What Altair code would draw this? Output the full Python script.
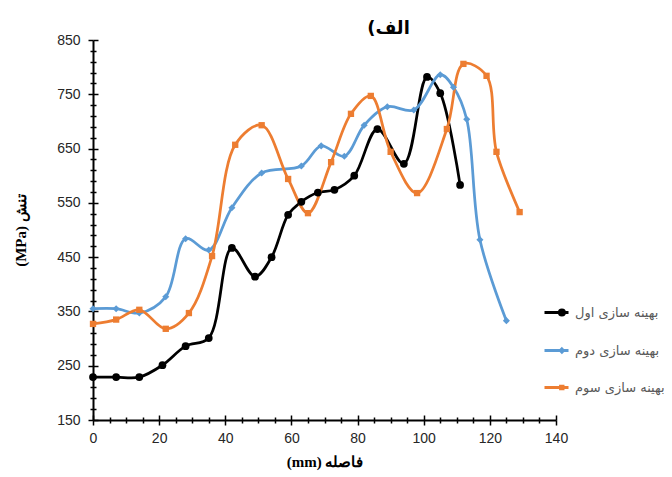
import altair as alt
import pandas as pd

S1, S2, S3 = "بهینه سازی اول", "بهینه سازی دوم", "بهینه سازی سوم"
SERIES = [S1, S2, S3]
COLORS = ["#000000", "#5B9BD5", "#ED7D31"]
MARKERS = ["circle", "diamond", "square"]
MARKER_SIZES = [60, 40, 32]

X1 = [0, 7, 14, 21, 28, 35, 42, 49, 54, 59, 63, 68, 73, 79, 86, 94, 101, 105, 111]
Y1 = [229, 229, 229, 251, 286, 301, 467, 414, 450, 528, 552, 569, 574, 600, 686, 622, 782, 752, 583]
X2 = [0, 7, 14, 22, 28, 35, 42, 51, 63, 69, 76, 82, 89, 97, 105, 109, 113, 117, 125]
Y2 = [355, 355, 347, 377, 484, 463, 541, 605, 618, 655, 636, 693, 727, 721, 786, 763, 704, 482, 333]
X3 = [0, 7, 14, 22, 29, 36, 43, 51, 59, 65, 72, 78, 84, 90, 98, 107, 112, 119, 122, 129]
Y3 = [327, 335, 353, 318, 347, 452, 657, 693, 594, 531, 625, 714, 747, 644, 568, 686, 806, 784, 644, 533]

X_TICKS = list(range(0, 141, 5))
Y_TICKS = list(range(150, 851, 20))

TITLE = "(الف"
X_TITLE = "(mm) فاصله"
Y_TITLE = "(MPa) تنش"

# legend symbols: short line with the series marker near its right end
LEGEND_PATHS = [
    "M-1,0H1M0.66,0A0.21,0.21,0,1,1,0.24,0A0.21,0.21,0,1,1,0.66,0ZM0.53,0A0.08,0.08,0,1,1,0.37,0A0.08,0.08,0,1,1,0.53,0Z",
    "M-1,0H1M0.45,-0.13L0.58,0L0.45,0.13L0.32,0Z",
    "M-1,0H1M0.34,-0.1H0.54V0.1H0.34Z",
]

rows = []
for name, xs, ys in [(S1, X1, Y1), (S2, X2, Y2), (S3, X3, Y3)]:
    for xv, yv in zip(xs, ys):
        rows.append({"series": name, "x": xv, "y": yv})
df = pd.DataFrame(rows)

xscale = alt.Scale(domain=[0, 140], nice=False)
yscale = alt.Scale(domain=[150, 850], nice=False)

x_main = alt.Axis(
    values=X_TICKS, labelExpr="datum.value % 20 == 0 ? datum.label : ''",
    tickSize={"condition": {"test": "datum.value % 20 == 0", "value": 5}, "value": 3},
    tickColor="black", tickWidth=1.5, domainColor="black", domainWidth=2,
    labelFont="Liberation Sans", labelFontSize=14, labelColor="#262626",
    labelPadding=6, labelFlush=False, labelOverlap=False, grid=False,
    title=X_TITLE, titleFont="Liberation Serif", titleFontSize=15,
    titleFontWeight="bold", titleColor="black", titlePadding=9,
)
y_main = alt.Axis(
    values=Y_TICKS, labelExpr="datum.value % 100 == 50 ? datum.label : ''",
    tickSize={"condition": {"test": "datum.value % 100 == 50", "value": 5}, "value": 3},
    tickColor="black", tickWidth=1.5, domainColor="black", domainWidth=2,
    labelFont="Liberation Sans", labelFontSize=14, labelColor="#262626",
    labelPadding=8, labelFlush=False, labelOverlap=False, grid=False,
    title=Y_TITLE, titleFont="Liberation Serif", titleFontSize=15,
    titleFontWeight="bold", titleColor="black", titlePadding=28,
)
x_inner = alt.Axis(
    orient="top", offset=-380, values=X_TICKS, labels=False, domain=False,
    grid=False, title=None, tickColor="black", tickWidth=1.5,
    tickSize={"condition": {"test": "datum.value % 20 == 0", "value": 5}, "value": 3},
)
y_inner = alt.Axis(
    orient="right", offset=-463, values=Y_TICKS, labels=False, domain=False,
    grid=False, title=None, tickColor="black", tickWidth=1.5,
    tickSize={"condition": {"test": "datum.value % 100 == 50", "value": 5}, "value": 3},
)

base = alt.Chart(df)

lines = base.mark_line(interpolate="catmull-rom", strokeWidth=2.75).encode(
    x=alt.X("x:Q", scale=xscale, axis=x_main),
    y=alt.Y("y:Q", scale=yscale, axis=y_main),
    color=alt.Color("series:N", scale=alt.Scale(domain=SERIES, range=COLORS), legend=None),
)

points = base.mark_point(filled=True, opacity=1).encode(
    x=alt.X("x:Q", scale=xscale, axis=x_inner),
    y=alt.Y("y:Q", scale=yscale, axis=y_inner),
    color=alt.Color("series:N", scale=alt.Scale(domain=SERIES, range=COLORS), legend=None),
    shape=alt.Shape("series:N", scale=alt.Scale(domain=SERIES, range=MARKERS), legend=None),
    size=alt.Size("series:N", scale=alt.Scale(domain=SERIES, range=MARKER_SIZES), legend=None),
)

leg = dict(
    orient="none", legendX=450, legendY=259, title=None, symbolSize=576,
    symbolStrokeWidth=3, rowPadding=15, labelFont="DejaVu Sans",
    labelFontSize=13, labelColor="#595959", labelLimit=300, labelOffset=5,
)
legend_layer = base.mark_point(opacity=0, filled=False, strokeWidth=3).encode(
    x=alt.X("x:Q", scale=xscale, axis=None),
    y=alt.Y("y:Q", scale=yscale, axis=None),
    color=alt.Color("series:N", scale=alt.Scale(domain=SERIES, range=COLORS), legend=alt.Legend(**leg)),
    shape=alt.Shape("series:N", scale=alt.Scale(domain=SERIES, range=LEGEND_PATHS), legend=alt.Legend(**leg)),
)

chart = (
    alt.layer(lines, points, legend_layer)
    .resolve_scale(color="independent", shape="independent", size="independent")
    .resolve_axis(x="independent", y="independent")
    .properties(
        width=463, height=380,
        autosize=alt.AutoSizeParams(type="none"),
        padding={"left": 85, "top": 32, "right": 108, "bottom": 51},
        title=alt.TitleParams(TITLE, font="DejaVu Sans", fontSize=18, fontWeight="bold",
                              color="black", anchor="middle", dx=64, dy=11, offset=6),
    )
    .configure_view(stroke="transparent")
)

chart.save("out.html", embed_options={"renderer": "svg", "actions": False})
